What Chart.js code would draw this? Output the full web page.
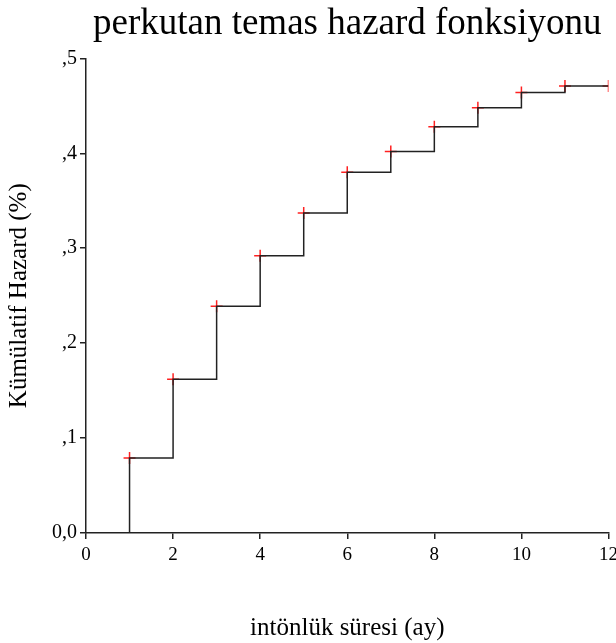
<!DOCTYPE html>
<html>
<head>
<meta charset="utf-8">
<script src="https://cdn.jsdelivr.net/npm/chart.js@4.4.0/dist/chart.umd.min.js"></script>
<style>
  html, body { margin: 0; padding: 0; background: #fff; }
  #wrap { width: 616px; height: 643px; }
</style>
</head>
<body>
<div id="wrap"><canvas id="hazardChart" width="616" height="643"></canvas></div>
<script>
// months and cumulative hazard
const months = [1, 2, 3, 4, 5, 6, 7, 8, 9, 10, 11, 12];
const hazard = [0.079, 0.162, 0.239, 0.292, 0.337, 0.380, 0.402, 0.428, 0.448, 0.464, 0.471, 0.471];
const yTickLabels = { 0: '0,0', 0.1: ',1', 0.2: ',2', 0.3: ',3', 0.4: ',4', 0.5: ',5' };

// step line starts on the axis at the first month
const stepPoints = [{ x: months[0], y: 0 }].concat(months.map((m, i) => ({ x: m, y: hazard[i] })));
const crossPoints = months.map((m, i) => ({ x: m, y: hazard[i] }));

const serif = "'Liberation Serif', 'DejaVu Serif', serif";
const ink = '#000';

const ctx = document.getElementById('hazardChart').getContext('2d');
const chart = new Chart(ctx, {
    type: 'scatter',
    data: {
        datasets: [{
            data: stepPoints,
            showLine: true,
            stepped: 'before',
            borderColor: '#222',
            borderWidth: 1.5,
            pointRadius: 0,
            fill: false
        }, {
            data: crossPoints,
            showLine: false,
            pointStyle: 'cross',
            pointRadius: 6,
            pointBorderWidth: 1.5,
            pointBorderColor: '#ff2020',
            pointBackgroundColor: '#ff2020'
        }]
    },
    options: {
        responsive: false,
        animation: false,
        layout: { padding: { left: 0, right: 0, top: 2, bottom: 0 } },
        plugins: {
            legend: { display: false },
            tooltip: { enabled: false },
            title: {
                display: true,
                fullSize: false,
                text: 'perkutan temas hazard fonksiyonu',
                color: ink,
                font: { family: serif, size: 37, weight: 'normal' },
                padding: { top: 0, bottom: 12 }
            }
        },
        scales: {
            x: {
                type: 'linear',
                min: 0,
                max: 12,
                ticks: {
                    stepSize: 2,
                    color: ink,
                    font: { family: serif, size: 19 },
                    padding: 5
                },
                grid: { drawOnChartArea: false, tickLength: 6, color: '#222', lineWidth: 1.5 },
                border: { color: '#222', width: 1.5 },
                title: {
                    display: true,
                    text: 'intönlük süresi (ay)',
                    color: ink,
                    font: { family: serif, size: 25 },
                    padding: { top: 0, bottom: 0 }
                },
                afterFit: function(scale) {
                    scale.paddingRight = 0;
                    scale.paddingLeft = 0;
                    scale.height = 110;
                }
            },
            y: {
                min: 0,
                max: 0.5,
                ticks: {
                    stepSize: 0.1,
                    color: ink,
                    font: { family: serif, size: 20 },
                    padding: 3,
                    callback: function(value) {
                        const key = Math.round(value * 10) / 10;
                        return yTickLabels[key] !== undefined ? yTickLabels[key] : '';
                    }
                },
                grid: { drawOnChartArea: false, tickLength: 6, color: '#222', lineWidth: 1.5 },
                border: { color: '#222', width: 1.5 },
                title: {
                    display: true,
                    text: 'Kümülatif Hazard (%)',
                    color: ink,
                    font: { family: serif, size: 25 },
                    padding: { top: 4, bottom: 0 }
                },
                afterFit: function(scale) {
                    scale.width = 86;
                }
            }
        }
    }
});
</script>
</body>
</html>
